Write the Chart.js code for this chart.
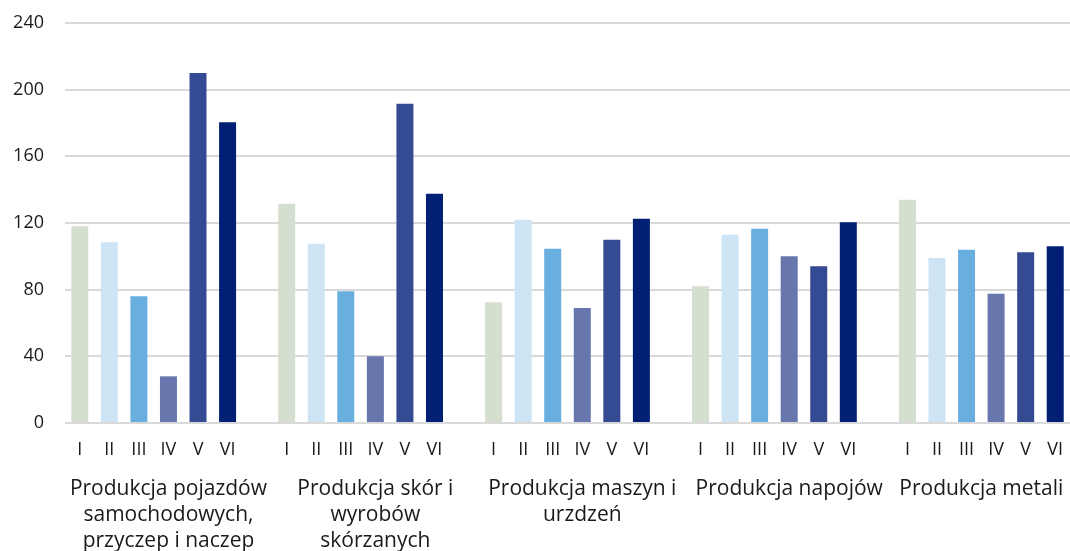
<!DOCTYPE html>
<html>
<head>
<meta charset="utf-8">
<script src="https://cdn.jsdelivr.net/npm/chart.js@4/dist/chart.umd.min.js"></script>
<style>
  html, body { margin: 0; padding: 0; background: #ffffff; }
  #wrap { width: 1070px; height: 551px; }
</style>
</head>
<body>
<div id="wrap"><canvas id="chart" width="1070" height="551"></canvas></div>
<script>
// miesiące (I–VI) i branże
const months = ["I", "II", "III", "IV", "V", "VI"];
const industries = [
  ["Produkcja pojazdów", "samochodowych,", "przyczep i naczep"],
  ["Produkcja skór i", "wyrobów", "skórzanych"],
  ["Produkcja maszyn i", "urzdzeń"],
  ["Produkcja napojów"],
  ["Produkcja metali"],
];

// wartości
const pojazdy = [118, 108.5, 76, 28, 210, 180.5];
const skory = [131.5, 107.5, 79, 40, 191.5, 137.5];
const maszyny = [72.5, 122, 104.5, 69, 110, 122.5];
const napoje = [82, 113, 116.5, 100, 94, 120.5];
const metale = [134, 99, 104, 77.5, 102.5, 106];

const yTicks = [0, 40, 80, 120, 160, 200, 240];

// kolory słupków wg miesiąca
const monthColors = ["#d5dfcf", "#cde4f4", "#68afe0", "#6777ae", "#344a93", "#001f75"];

const FONT = "'Open Sans', 'Noto Sans', sans-serif";
const TEXT = "#1a1a1a";

// budowa jednej serii z pustą kategorią między grupami
const groups = [pojazdy, skory, maszyny, napoje, metale];
const labels = [];
const values = [];
const colors = [];
const groupCenters = []; // środek zakresu kategorii danej grupy (razem z przerwą)
groups.forEach((g, gi) => {
  const start = labels.length;
  g.forEach((v, i) => {
    labels.push(months[i]);
    values.push(v);
    colors.push(monthColors[i]);
  });
  if (gi < groups.length - 1) {
    labels.push("");
    values.push(null);
    colors.push("#ffffff");
  }
  const end = labels.length - 1;
  groupCenters.push((start + end) / 2);
});

const ctx = document.getElementById("chart").getContext("2d");
new Chart(ctx, {
  type: "bar",
  data: {
    labels: labels,
    datasets: [
      {
        data: values,
        backgroundColor: colors,
        borderWidth: 0,
        barPercentage: 0.575,
        categoryPercentage: 1,
      },
    ],
  },
  options: {
    responsive: false,
    animation: false,
    layout: { padding: { top: 23, right: 0, left: 0, bottom: 0 } },
    plugins: { legend: { display: false }, tooltip: { enabled: false } },
    scales: {
      x: {
        type: "category",
        position: "bottom",
        grid: { display: false, drawTicks: false },
        border: { display: false },
        ticks: {
          color: TEXT,
          font: { family: FONT, size: 18 },
          padding: 16,
          autoSkip: false,
          maxRotation: 0,
          minRotation: 0,
        },
        afterFit: (s) => {
          s.height = 42;
          s.paddingLeft = 0;
          s.paddingRight = 0;
        },
      },
      // druga oś: nazwy branż pod grupami
      xInd: {
        type: "linear",
        position: "bottom",
        offset: false,
        min: -0.5,
        max: labels.length - 0.5,
        grid: { display: false, drawTicks: false, offset: false },
        border: { display: false },
        afterBuildTicks: (s) => {
          s.ticks = groupCenters.map((v) => ({ value: v }));
        },
        ticks: {
          color: TEXT,
          font: { family: FONT, size: 21, lineHeight: 1.24 },
          padding: 11,
          autoSkip: false,
          maxRotation: 0,
          minRotation: 0,
          callback: (value, index) => industries[index],
        },
        afterFit: (s) => {
          s.height = 86;
          s.paddingLeft = 0;
          s.paddingRight = 0;
        },
      },
      y: {
        min: 0,
        max: 240,
        afterBuildTicks: (s) => {
          s.ticks = yTicks.map((v) => ({ value: v }));
        },
        grid: { color: "#d9d9d9", lineWidth: 2, drawTicks: false },
        border: { display: false },
        ticks: {
          color: TEXT,
          font: { family: FONT, size: 18 },
          padding: 21,
        },
        afterFit: (s) => {
          s.width = 65;
          s.paddingTop = 0;
          s.paddingBottom = 0;
        },
      },
    },
  },
});
</script>
</body>
</html>
